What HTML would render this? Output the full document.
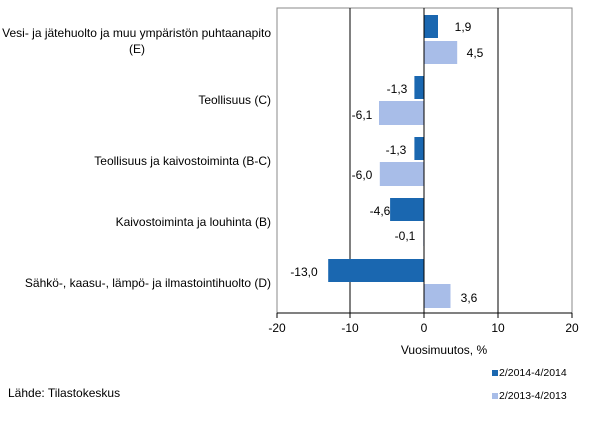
<!DOCTYPE html><html><head><style>body{margin:0;background:#fff}svg{font-family:"Liberation Sans",sans-serif;font-size:12px}</style></head><body>
<svg width="609" height="418" xmlns="http://www.w3.org/2000/svg">
<rect x="277" y="8" width="295" height="305" fill="none" stroke="#888" stroke-width="1"/>
<line x1="350" y1="8" x2="350" y2="313" stroke="#000"/>
<line x1="498" y1="8" x2="498" y2="313" stroke="#000"/>
<g fill="#1a67b0">
<rect x="424" y="15" width="14" height="23"/>
<rect x="414.4" y="76" width="9.6" height="23"/>
<rect x="414.4" y="137" width="9.6" height="23"/>
<rect x="390.1" y="198" width="33.9" height="23"/>
<rect x="328.2" y="259" width="95.8" height="23"/>
</g>
<g fill="#a8bde8">
<rect x="424" y="41" width="33.2" height="23"/>
<rect x="379" y="101" width="45" height="24"/>
<rect x="379.8" y="162" width="44.2" height="24"/>
<rect x="423.3" y="223" width="0.7" height="23"/>
<rect x="424" y="284" width="26.5" height="24"/>
</g>
<line x1="424" y1="8" x2="424" y2="313" stroke="#000"/>
<line x1="277" y1="313" x2="572" y2="313" stroke="#000"/>
<g stroke="#000"><line x1="277" y1="313" x2="277" y2="318"/><line x1="350" y1="313" x2="350" y2="318"/><line x1="424" y1="313" x2="424" y2="318"/><line x1="498" y1="313" x2="498" y2="318"/><line x1="572" y1="313" x2="572" y2="318"/></g>
<g text-anchor="middle" fill="#000">
<text x="277" y="332">-20</text><text x="350" y="332">-10</text><text x="424" y="332">0</text><text x="498" y="332">10</text><text x="572" y="332">20</text>
<text x="444" y="354">Vuosimuutos, %</text>
</g>
<g fill="#000">
<text x="463" y="31" text-anchor="middle">1,9</text>
<text x="475" y="57" text-anchor="middle">4,5</text>
<text x="397" y="93" text-anchor="middle">-1,3</text>
<text x="362" y="119" text-anchor="middle">-6,1</text>
<text x="396" y="154" text-anchor="middle">-1,3</text>
<text x="362" y="179" text-anchor="middle">-6,0</text>
<text x="380" y="215" text-anchor="middle">-4,6</text>
<text x="405" y="240" text-anchor="middle">-0,1</text>
<text x="304" y="276" text-anchor="middle">-13,0</text>
<text x="469" y="302" text-anchor="middle">3,6</text>
</g>
<g text-anchor="end" fill="#000">
<text x="271" y="37">Vesi- ja jätehuolto ja muu ympäristön puhtaanapito</text>
<text x="271" y="53" text-anchor="middle" dx="-134">(E)</text>
<text x="271" y="104">Teollisuus (C)</text>
<text x="271" y="165">Teollisuus ja kaivostoiminta (B-C)</text>
<text x="271" y="226">Kaivostoiminta ja louhinta (B)</text>
<text x="271" y="287">Sähkö-, kaasu-, lämpö- ja ilmastointihuolto (D)</text>
</g>
<text x="8" y="397" fill="#000">Lähde: Tilastokeskus</text>
<rect x="492" y="370" width="6" height="6" fill="#1a67b0"/>
<text x="499" y="376" font-size="10.5" fill="#000">2/2014-4/2014</text>
<rect x="492" y="393" width="6" height="6" fill="#a8bde8"/>
<text x="499" y="399" font-size="10.5" fill="#000">2/2013-4/2013</text>
</svg></body></html>
